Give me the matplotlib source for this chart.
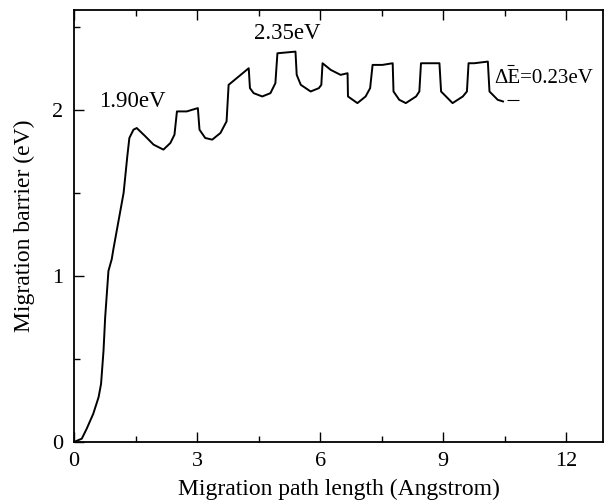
import numpy as np
import matplotlib.pyplot as plt
from matplotlib.ticker import MultipleLocator

plt.rcParams['font.family'] = ['Liberation Serif', 'DejaVu Serif']

# migration path (Angstrom) and barrier (eV)
path_x = [0.0, 0.19, 0.31, 0.47, 0.60, 0.66, 0.72, 0.76, 0.80, 0.84, 0.92, 0.96, 1.21, 1.30,
          1.35, 1.45, 1.53, 1.74, 1.94, 2.18, 2.35, 2.45, 2.51, 2.75, 3.02, 3.06, 3.20,
          3.37, 3.57, 3.72, 3.77, 4.26, 4.29, 4.38, 4.59, 4.79, 4.91, 4.96, 5.40, 5.43,
          5.53, 5.77, 5.97, 6.03, 6.06, 6.26, 6.50, 6.67, 6.68, 6.91, 7.11, 7.22, 7.28,
          7.52, 7.77, 7.79, 7.93, 8.09, 8.34, 8.42, 8.46, 8.58, 8.91, 8.95, 9.03, 9.23,
          9.48, 9.58, 9.62, 9.76, 10.09, 10.13, 10.21, 10.33, 10.46]
barrier = [0.0, 0.02, 0.08, 0.17, 0.27, 0.35, 0.55, 0.75, 0.89, 1.03, 1.10, 1.16, 1.50, 1.72,
           1.83, 1.88, 1.89, 1.84, 1.79, 1.76, 1.80, 1.85, 1.99, 1.99, 2.01, 1.88, 1.83,
           1.82, 1.86, 1.93, 2.15, 2.25, 2.13, 2.10, 2.08, 2.10, 2.16, 2.34, 2.35, 2.21,
           2.15, 2.11, 2.13, 2.15, 2.28, 2.24, 2.21, 2.22, 2.08, 2.04, 2.08, 2.13, 2.27,
           2.27, 2.28, 2.11, 2.06, 2.04, 2.08, 2.11, 2.28, 2.28, 2.28, 2.11, 2.09, 2.04,
           2.08, 2.11, 2.28, 2.28, 2.29, 2.11, 2.09, 2.06, 2.05]

dE_levels = [2.27, 2.06]

fig = plt.figure(figsize=(6.04, 5.04), dpi=100)
ax = fig.add_axes([0.1225, 0.123, 0.876, 0.857])

ax.plot(path_x, barrier, color='black', lw=1.4, solid_joinstyle='round')

# short level marks next to the delta-E label
ax.hlines(dE_levels, [10.55, 10.55], [10.74, 10.84], color='black', lw=0.8)

ax.text(1.41, 2.05, '1.90eV', fontsize=16.5, ha='center', va='center')
ax.text(5.2, 2.46, '2.35eV', fontsize=16.5, ha='center', va='center')
ax.text(10.25, 2.19, '\u0394E=0.23eV', fontsize=15, ha='left', va='center')

ax.set_xlim(0, 12.9)
ax.set_ylim(0, 2.6)
ax.xaxis.set_major_locator(MultipleLocator(3))
ax.xaxis.set_minor_locator(MultipleLocator(1.5))
ax.yaxis.set_major_locator(MultipleLocator(1))
ax.yaxis.set_minor_locator(MultipleLocator(0.5))
ax.tick_params(which='both', direction='in', top=True, right=False, labelsize=16, width=1)
ax.tick_params(which='major', length=7)
ax.tick_params(which='minor', length=4)
ax.tick_params(axis='x', pad=7)
ax.tick_params(axis='y', pad=8)
for s in ax.spines.values():
    s.set_linewidth(1.3)

ax.set_xlabel('Migration path length (Angstrom)', fontsize=17, labelpad=6)
ax.set_ylabel('Migration barrier (eV)', fontsize=17, labelpad=12)

plt.savefig('out.png', dpi=100)
